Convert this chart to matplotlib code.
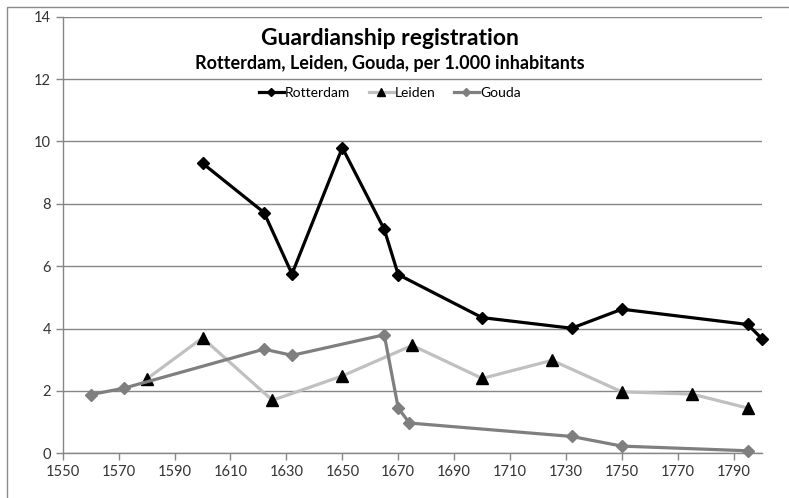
import matplotlib.pyplot as plt
from matplotlib.patches import Rectangle

# values
rotterdam_years = [1600, 1622, 1632, 1650, 1665, 1670, 1700, 1732, 1750, 1795, 1800]
rotterdam_vals = [9.3, 7.72, 5.75, 9.8, 7.18, 5.73, 4.35, 4.01, 4.62, 4.13, 3.68]

leiden_years = [1580, 1600, 1625, 1650, 1675, 1700, 1725, 1750, 1775, 1795]
leiden_vals = [2.38, 3.7, 1.7, 2.48, 3.46, 2.4, 2.98, 1.97, 1.9, 1.45]

gouda_years = [1560, 1572, 1622, 1632, 1665, 1670, 1674, 1732, 1750, 1795]
gouda_vals = [1.88, 2.09, 3.34, 3.14, 3.8, 1.45, 0.97, 0.54, 0.23, 0.08]

x_ticks = list(range(1550, 1791, 20))
y_ticks = list(range(0, 15, 2))

plt.rcParams['font.family'] = ['Lato', 'DejaVu Sans']

fig = plt.figure(figsize=(7.89, 4.98), dpi=100)
ax = fig.add_axes([0.0795, 0.0898, 0.8859, 0.8767])

grid_col = '#868686'
ax.plot(rotterdam_years, rotterdam_vals, color='black', lw=2.3, marker='D',
        ms=6, mfc='black', mec='black', label='Rotterdam', zorder=4, clip_on=False)
ax.plot(leiden_years, leiden_vals, color='#c0c0c0', lw=2.3, marker='^',
        ms=9, mfc='black', mec='black', label='Leiden', zorder=3, clip_on=False)
ax.plot(gouda_years, gouda_vals, color='#7f7f7f', lw=2.3, marker='D',
        ms=6, mfc='#7f7f7f', mec='#7f7f7f', label='Gouda', zorder=3, clip_on=False)

ax.set_xlim(1550, 1800)
ax.set_ylim(0, 14)
ax.set_xticks(x_ticks)
ax.set_yticks(y_ticks)
ax.tick_params(axis='both', labelsize=10.5, colors='#333333', length=5, width=1)
ax.tick_params(axis='both', color=grid_col)
ax.yaxis.grid(True, color=grid_col, lw=1)
ax.set_axisbelow(True)
for s in ['top', 'right']:
    ax.spines[s].set_visible(False)
for s in ['left', 'bottom']:
    ax.spines[s].set_color(grid_col)
    ax.spines[s].set_linewidth(1)
for lab in ax.get_xticklabels() + ax.get_yticklabels():
    lab.set_color('#333333')

fig.text(0.494, 0.923, 'Guardianship registration', ha='center', va='center',
         fontsize=16.5, fontweight='bold')
fig.text(0.494, 0.872, 'Rotterdam, Leiden, Gouda, per 1.000 inhabitants',
         ha='center', va='center', fontsize=13, fontweight='bold')

leg = ax.legend(loc='center', bbox_to_anchor=(0.494, 0.813), bbox_transform=fig.transFigure,
                ncol=3, frameon=False, fontsize=10, handlelength=1.8,
                handletextpad=0.1, columnspacing=1.3, markerscale=0.7)

# outer chart frame
fig.patches.append(Rectangle((7 / 789, -0.05), 1.2, 1 - 7 / 498 + 0.05,
                             transform=fig.transFigure, fill=False,
                             edgecolor='#8a8a8a', lw=1))

fig.savefig('out.png', dpi=100)
